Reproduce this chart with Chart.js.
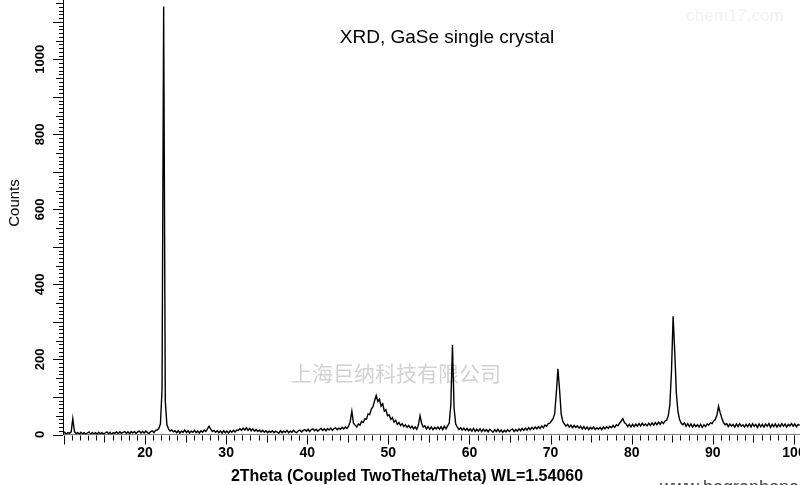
<!DOCTYPE html>
<html>
<head>
<meta charset="utf-8">
<script src="https://cdn.jsdelivr.net/npm/chart.js@4.4.1/dist/chart.umd.min.js"></script>
<style>
  html, body { margin: 0; padding: 0; background: #fff; }
  #wrap { width: 800px; height: 485px; position: relative; }
</style>
</head>
<body>
<div id="wrap"><canvas id="c" width="800" height="485"></canvas></div>
<script>
// ---- Data ----
const chartTitle = "XRD, GaSe single crystal";
const xAxisTitle = "2Theta (Coupled TwoTheta/Theta) WL=1.54060";
const yAxisTitle = "Counts";
const watermarkCompany = "上海巨纳科技有限公司";
const watermarkSite = "chem17.com";
const footerSite = "www.bagraphene.com";

// measurement grid: 2θ from 9.9° in steps of 0.2°
const thetaStart = 9.9;
const thetaStep = 0.2;

// counts at each grid point (rows of 10 points = 2°)
const counts = [
  /* 9.9  */ 3, 6, 1, 5, 3, 7, 42, 8, 2, 5,
  /* 11.9 */ 1, 6, 2, 5, 1, 4, 7, 1, 5, 2,
  /* 13.9 */ 5, 1, 6, 2, 5, 1, 4, 7, 2, 6,
  /* 15.9 */ 1, 5, 3, 7, 2, 7, 3, 6, 8, 3,
  /* 17.9 */ 7, 2, 8, 4, 8, 3, 7, 9, 4, 8,
  /* 19.9 */ 4, 9, 5, 3, 8, 10, 5, 11, 12, 16,
  /* 21.9 */ 28, 120, 1141, 90, 26, 15, 9, 12, 7, 10,
  /* 23.9 */ 5, 10, 4, 9, 6, 12, 5, 10, 4, 9,
  /* 25.9 */ 6, 11, 5, 9, 4, 10, 6, 12, 8, 15,
  /* 27.9 */ 22, 14, 8, 11, 6, 10, 5, 9, 4, 10,
  /* 29.9 */ 5, 9, 4, 10, 6, 11, 7, 12, 11, 16,
  /* 31.9 */ 11, 17, 12, 18, 11, 16, 10, 15, 9, 13,
  /* 33.9 */ 8, 12, 7, 11, 6, 10, 5, 9, 6, 10,
  /* 35.9 */ 5, 9, 6, 4, 10, 5, 9, 6, 11, 5,
  /* 37.9 */ 9, 6, 11, 7, 5, 10, 12, 7, 11, 13,
  /* 39.9 */ 9, 14, 8, 13, 15, 10, 14, 9, 13, 16,
  /* 41.9 */ 11, 15, 10, 16, 12, 17, 11, 16, 18, 13,
  /* 43.9 */ 17, 14, 19, 15, 20, 16, 22, 35, 62, 30,
  /* 45.9 */ 25, 20, 28, 25, 35, 32, 42, 41, 55, 53,
  /* 47.9 */ 68, 74, 90, 104, 88, 94, 76, 82, 62, 66,
  /* 49.9 */ 50, 52, 40, 45, 33, 38, 27, 32, 24, 29,
  /* 51.9 */ 21, 26, 19, 24, 17, 22, 15, 20, 14, 25,
  /* 53.9 */ 50, 30, 20, 23, 15, 21, 14, 20, 13, 19,
  /* 55.9 */ 15, 20, 14, 21, 13, 22, 15, 23, 30, 80,
  /* 57.9 */ 239, 70, 28, 20, 13, 18, 12, 17, 11, 16,
  /* 59.9 */ 10, 15, 9, 16, 8, 14, 9, 15, 8, 14,
  /* 61.9 */ 9, 13, 7, 14, 10, 6, 13, 8, 14, 7,
  /* 63.9 */ 12, 6, 11, 7, 13, 8, 12, 15, 8, 13,
  /* 65.9 */ 9, 15, 10, 16, 11, 17, 12, 18, 13, 19,
  /* 67.9 */ 14, 20, 15, 21, 16, 23, 18, 25, 22, 29,
  /* 69.9 */ 30, 36, 42, 55, 110, 175, 120, 55, 35, 28,
  /* 71.9 */ 22, 27, 20, 25, 18, 24, 19, 23, 17, 22,
  /* 73.9 */ 15, 21, 14, 20, 13, 19, 15, 20, 13, 18,
  /* 75.9 */ 14, 19, 13, 20, 15, 21, 16, 22, 18, 24,
  /* 77.9 */ 19, 26, 23, 30, 36, 42, 32, 28, 21, 27,
  /* 79.9 */ 20, 27, 21, 28, 22, 29, 23, 30, 24, 28,
  /* 81.9 */ 23, 30, 24, 31, 25, 32, 26, 33, 27, 34,
  /* 83.9 */ 29, 36, 38, 50, 80, 170, 315, 220, 110, 60,
  /* 85.9 */ 40, 30, 26, 31, 22, 29, 21, 28, 20, 27,
  /* 87.9 */ 21, 26, 20, 27, 19, 26, 21, 28, 25, 31,
  /* 89.9 */ 29, 36, 40, 52, 75, 58, 44, 32, 26, 29,
  /* 91.9 */ 21, 28, 22, 27, 20, 28, 21, 29, 22, 26,
  /* 93.9 */ 20, 27, 21, 28, 20, 29, 22, 27, 19, 28,
  /* 95.9 */ 21, 27, 20, 28, 22, 29, 19, 27, 21, 28,
  /* 97.9 */ 20, 27, 21, 29, 22, 28, 20, 27, 23, 29,
  /* 99.9 */ 22, 28, 21, 27, 24
];

// axis ranges and tick labels
const xRange = [9.892, 100.74];
const yRange = [0, 1158];
const xTickLabels = [20, 30, 40, 50, 60, 70, 80, 90, 100];
const yTickLabels = [0, 200, 400, 600, 800, 1000];
const xMinorStep = 1;
const yMinorStep = 10;

// ---- Build chart ----
const points = counts.map((c, i) => ({ x: +(thetaStart + i * thetaStep).toFixed(2), y: c }));

const FONT = "'Liberation Sans', Arial, sans-serif";

const decor = {
  id: 'decor',
  beforeDatasetsDraw(chart) {
    const ctx = chart.ctx;
    ctx.save();
    ctx.textAlign = 'center';
    ctx.textBaseline = 'middle';
    ctx.fillStyle = '#d2d2d2';
    ctx.font = "21px 'Noto Sans CJK SC', sans-serif";
    ctx.fillText(watermarkCompany, 396, 373);
    ctx.fillStyle = '#f2f2f2';
    ctx.font = "17px " + FONT;
    ctx.fillText(watermarkSite, 735, 16);
    ctx.restore();
  },
  afterDraw(chart) {
    const ctx = chart.ctx, xs = chart.scales.x, ys = chart.scales.y, a = chart.chartArea;
    ctx.save();
    ctx.strokeStyle = '#000';
    ctx.lineWidth = 1;
    ctx.beginPath();
    for (let v = Math.ceil(xs.min); v <= xs.max; v += xMinorStep) {
      const px = Math.round(xs.getPixelForValue(v)) + 0.5;
      const len = v % 10 === 0 ? 9 : (v % 5 === 0 ? 7 : 5);
      ctx.moveTo(px, a.bottom + 1);
      ctx.lineTo(px, a.bottom + 1 + len);
    }
    for (let v = 0; v <= ys.max; v += yMinorStep) {
      const py = Math.round(ys.getPixelForValue(v)) + 0.5;
      const len = v % 100 === 0 ? 10 : (v % 50 === 0 ? 7 : 4);
      ctx.moveTo(a.left, py);
      ctx.lineTo(a.left - len, py);
    }
    ctx.stroke();

    ctx.fillStyle = '#000';
    ctx.textAlign = 'center';
    ctx.textBaseline = 'middle';
    ctx.font = "19px " + FONT;
    ctx.fillText(chartTitle, 447, 38);
    ctx.font = "bold 16px " + FONT;
    ctx.fillText(xAxisTitle, 407, 477);
    ctx.save();
    ctx.translate(15, 203);
    ctx.rotate(-Math.PI / 2);
    ctx.font = "15px " + FONT;
    ctx.fillText(yAxisTitle, 0, 0);
    ctx.restore();
    ctx.fillStyle = '#444';
    ctx.textAlign = 'left';
    ctx.textBaseline = 'alphabetic';
    ctx.font = "18px " + FONT;
    ctx.fillText(footerSite, 660, 493);
    ctx.restore();
  }
};

function zeroPad(s) { s.paddingLeft = 0; s.paddingRight = 0; s.paddingTop = 0; s.paddingBottom = 0; }

new Chart(document.getElementById('c'), {
  type: 'line',
  data: {
    datasets: [{
      data: points,
      borderColor: '#000',
      borderWidth: 1.4,
      pointRadius: 0,
      tension: 0,
      fill: false
    }]
  },
  options: {
    responsive: false,
    animation: false,
    devicePixelRatio: 1,
    layout: { padding: 0 },
    plugins: { legend: { display: false }, title: { display: false }, tooltip: { enabled: false } },
    scales: {
      x: {
        type: 'linear',
        min: xRange[0],
        max: xRange[1],
        position: 'bottom',
        grid: { display: true, drawOnChartArea: false, drawTicks: false },
        border: { display: true, color: '#808080', width: 1 },
        ticks: {
          autoSkip: false, maxRotation: 0, padding: 10, color: '#000',
          font: { family: FONT, size: 14, weight: 'bold' },
          callback: v => String(v)
        },
        afterBuildTicks: s => { s.ticks = xTickLabels.map(v => ({ value: v })); },
        afterFit: s => { s.height = 50.5; zeroPad(s); }
      },
      y: {
        type: 'linear',
        min: yRange[0],
        max: yRange[1],
        grid: { display: true, drawOnChartArea: false, drawTicks: false },
        border: { display: true, color: '#000', width: 1 },
        ticks: {
          autoSkip: false, minRotation: 90, maxRotation: 90, crossAlign: 'center', padding: 8, color: '#000',
          font: { family: FONT, size: 13, weight: 'bold' },
          callback: v => String(v)
        },
        afterBuildTicks: s => { s.ticks = yTickLabels.map(v => ({ value: v })); },
        afterFit: s => { s.width = 63; zeroPad(s); }
      }
    }
  },
  plugins: [decor]
});
</script>
</body>
</html>
